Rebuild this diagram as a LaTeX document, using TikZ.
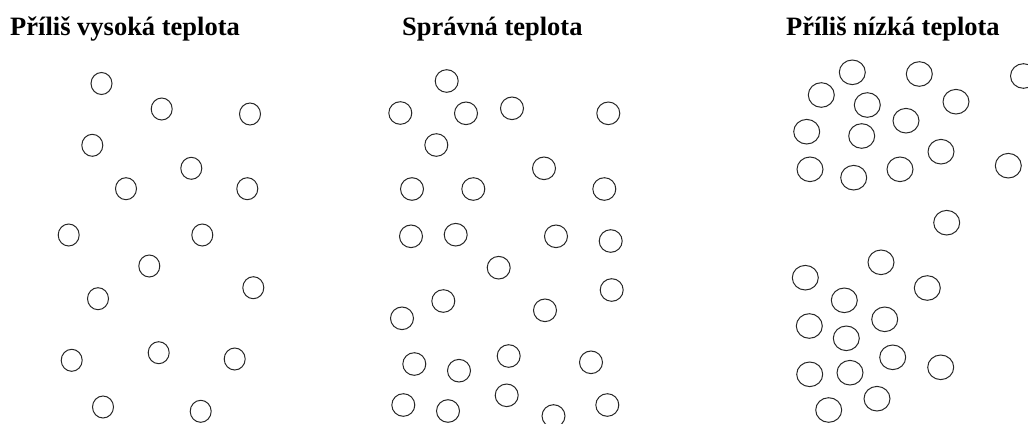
\documentclass[tikz,border=0pt]{standalone}
\usepackage{fontspec}
\setmainfont{Liberation Serif}
\begin{document}
\begin{tikzpicture}[x=1pt,y=-1pt,
  title/.style={anchor=base west,inner sep=0pt,font=\fontsize{26.5}{30}\selectfont\bfseries},
  molA/.style={draw=black!85,line width=1pt,x radius=10.5,y radius=11},
  molB/.style={draw=black!85,line width=1pt,x radius=11.5,y radius=11.3},
  molC/.style={draw=black!85,line width=1pt,x radius=13,y radius=12.3}]
\useasboundingbox (0,0) rectangle (1028,423);
\clip (0,0) rectangle (1028,423);
\node[title] (t1) at (10,35) {Příliš vysoká teplota};
\node[title] (t2) at (402,35) {Správná teplota};
\node[title] (t3) at (786,35) {Příliš nízká teplota};
% panel 1
\foreach \x/\y in {101.5/83.5,161.7/109,250/114,92.3/145.3,191.3/168.3,126/188.7,247.3/188.7,
  68.7/235,202.3/235,149.3/266,253.3/287.7,98/298.7,71.7/360.3,158.7/352.7,234.7/359,103/407,200.7/411.3}
  \draw[molA] (\x,\y) ellipse [];
% panel 2
\foreach \x/\y in {446.7/81,400.3/113,466/113.3,512/108.3,608.3/113.3,436.3/145,544/168.3,412/189,473.3/189,604.3/189,
  411/236.3,455.7/234.7,556/236.3,610.7/241,498.7/267.7,611.7/290,443.3/301,402/318.3,545/310.3,
  414.3/364,459/370.7,508.7/356,591/362.3,403.3/405,448/411,506.7/395.3,553.5/416,607.3/405}
  \draw[molB] (\x,\y) ellipse [];
% panel 3
\foreach \x/\y in {852.3/72.3,919.3/74,1023.5/76,821.3/95,867.3/105,956/101.7,906/120.7,806.7/131.7,861.7/136,941/151.7,
  810/169.3,853.7/177.7,900/169.3,1008.3/165.7,
  946.7/222.7,881/262.3,805.3/277.7,927.3/288,844.3/300.3,809.3/326,884.7/319.3,846.3/338.3,892.7/357.3,
  940.7/367.3,809.7/374.3,850/372.7,877/398.7,828.7/410}
  \draw[molC] (\x,\y) ellipse [];
\end{tikzpicture}
\end{document}
